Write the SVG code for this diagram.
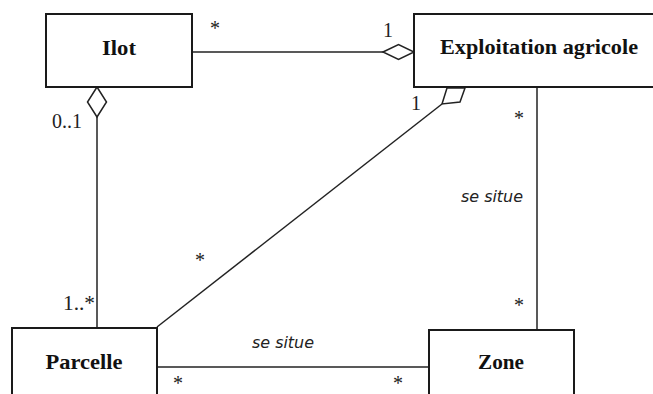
<svg xmlns="http://www.w3.org/2000/svg" width="653" height="394" viewBox="0 0 653 394">
<style>
.box{fill:#fff;stroke:#1a1a1a;stroke-width:2}
.cls{font-family:"Liberation Serif","Times New Roman",serif;font-weight:bold;font-size:21px;fill:#111;text-anchor:middle}
.mult{font-family:"Liberation Serif","Times New Roman",serif;font-size:20px;fill:#222}
.role{font-family:"DejaVu Sans",sans-serif;font-style:italic;font-size:16px;fill:#222}
.ln{stroke:#222;stroke-width:1.5;fill:none}
.dia{fill:#fff;stroke:#222;stroke-width:1.5}
</style>
<rect width="653" height="394" fill="#fff"/>
<g id="connectors">
<line class="ln" x1="192" y1="52" x2="383" y2="52"/>
<polygon class="dia" points="383,52 398.5,44.5 414,52 398.5,59.5"/>
<line class="ln" x1="97" y1="117" x2="97" y2="328"/>
<polygon class="dia" points="97,87 106.5,102 97,117 87.5,102"/>
<line class="ln" x1="537" y1="87" x2="537" y2="330"/>
<line class="ln" x1="157" y1="367" x2="429" y2="367"/>
<line class="ln" x1="157" y1="327" x2="442" y2="104"/>
<polygon class="dia" points="442,104 447,88 465,88 460,102"/>
<text class="mult" x="215" y="35" text-anchor="middle">*</text>
<text class="mult" x="388" y="37" text-anchor="middle">1</text>
<text class="mult" x="52" y="128" textLength="30" lengthAdjust="spacingAndGlyphs">0..1</text>
<text class="mult" x="63" y="310" textLength="32" lengthAdjust="spacingAndGlyphs">1..*</text>
<text class="mult" x="416" y="110" text-anchor="middle">1</text>
<text class="mult" x="519" y="125" text-anchor="middle">*</text>
<text class="mult" x="519" y="312" text-anchor="middle">*</text>
<text class="mult" x="200" y="267" text-anchor="middle">*</text>
<text class="mult" x="178" y="390" font-size="16" text-anchor="middle">*</text>
<text class="mult" x="398" y="390" font-size="16" text-anchor="middle">*</text>
<text class="role" x="461" y="202" textLength="62" lengthAdjust="spacingAndGlyphs">se situe</text>
<text class="role" x="252" y="348" textLength="62" lengthAdjust="spacingAndGlyphs">se situe</text>
</g>
<g id="ilot">
<rect class="box" x="46" y="14" width="146" height="73"/>
<text class="cls" x="119" y="55" textLength="34" lengthAdjust="spacingAndGlyphs">Ilot</text>
</g>
<g id="exploitation">
<rect class="box" x="414" y="14" width="250" height="73"/>
<text class="cls" x="539" y="54" textLength="198" lengthAdjust="spacingAndGlyphs">Exploitation agricole</text>
</g>
<g id="parcelle">
<rect class="box" x="12" y="328" width="145" height="80"/>
<text class="cls" x="84" y="369" textLength="77" lengthAdjust="spacingAndGlyphs">Parcelle</text>
</g>
<g id="zone">
<rect class="box" x="429" y="330" width="145" height="80"/>
<text class="cls" x="501" y="369" textLength="46" lengthAdjust="spacingAndGlyphs">Zone</text>
</g>
</svg>
